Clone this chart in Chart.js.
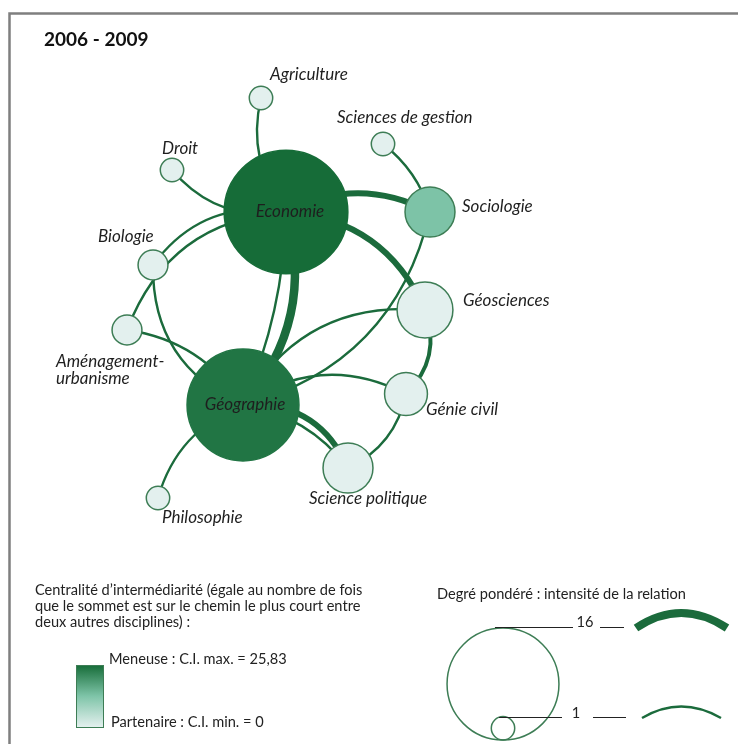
<!DOCTYPE html>
<html>
<head>
<meta charset="utf-8">
<script src="https://cdn.jsdelivr.net/npm/chart.js@4.4.1/dist/chart.umd.min.js"></script>
<style>
  html, body { margin: 0; padding: 0; background: #fff; }
  #wrap { width: 738px; height: 744px; position: relative; }
</style>
</head>
<body>
<div id="wrap"><canvas id="net" width="738" height="744"></canvas></div>
<script>
// Nodes (disciplines) - layout coords, weighted degree, betweenness centrality
const nodeNames  = ['Economie', 'Géographie', 'Sociologie', 'Géosciences', 'Génie civil', 'Science politique',
                    'Agriculture', 'Sciences de gestion', 'Droit', 'Biologie', 'Aménagement-urbanisme', 'Philosophie'];
const nodeX      = [286, 243, 430, 425, 406, 348, 261, 383, 172, 153, 127, 158];
const nodeY      = [212, 405, 212, 310, 394, 468,  98, 144, 170, 265, 330, 498];
const nodeDegree = [18, 16, 5.5, 6.5, 4.3, 5.5, 1, 1, 1, 2.1, 2.1, 1];
const nodeCI     = [25.83, 24.5, 13, 0, 0, 0, 0, 0, 0, 0, 0, 0];

// Edges (relations) - index into nodes, weight, curvature
const edgeFrom   = [6, 8, 0, 0, 9, 10, 0, 0, 0, 0, 7, 2, 3, 4, 3, 4, 1, 1, 1];
const edgeTo     = [0, 0, 9, 10, 1, 1, 1, 1, 2, 3, 2, 1, 1, 1, 4, 5, 5, 5, 11];
const edgeWeight = [1, 1, 1, 1, 1, 1, 17, 1, 10, 10, 1, 1, 1, 1, 5, 1, 10, 1, 1];
const edgeBend   = [0.24, 0.28, 0.31, 0.32, 0.33, -0.23, -0.27, -0.1, -0.26, -0.3, -0.16, -0.3, 0.32, 0.3, -0.32, -0.25, -0.35, -0.2, 0.25];

// Legend scale values
const CI_MAX = 25.83, CI_MIN = 0;
const legendDegrees = [16, 1];

const GREEN = '#1b6b3c';
const FONT = 'Lato, "Open Sans", sans-serif';

const radius = (deg) => 11.7 + (deg - 1) * 2.95;
const edgeWidth = (w) => 2.4 + (w - 1) * 0.38;

const STOPS = [[227, 240, 238], [126, 196, 168], [22, 108, 56]];
function ciColor(v) {
  const t = Math.max(0, Math.min(1, (v - CI_MIN) / (CI_MAX - CI_MIN)));
  const seg = t < 0.5 ? 0 : 1, lt = t < 0.5 ? t / 0.5 : (t - 0.5) / 0.5;
  const a = STOPS[seg], b = STOPS[seg + 1];
  return 'rgb(' + a.map((c, i) => Math.round(c + (b[i] - c) * lt)).join(',') + ')';
}

// label placement (text layout only)
const LABELS = {
  'Economie': { x: 290, y: 212, align: 'center' },
  'Géographie': { x: 245, y: 405, align: 'center' },
  'Sociologie': { x: 462, y: 207 },
  'Géosciences': { x: 463, y: 301 },
  'Génie civil': { x: 426, y: 410 },
  'Science politique': { x: 309, y: 499 },
  'Agriculture': { x: 270, y: 75 },
  'Sciences de gestion': { x: 337, y: 118 },
  'Droit': { x: 162, y: 149 },
  'Biologie': { x: 98, y: 237 },
  'Aménagement-urbanisme': { x: 56, y: 362, lines: ['Aménagement-', 'urbanisme'] },
  'Philosophie': { x: 162, y: 518 }
};

function curve(ctx, x0, y0, x1, y1, bend) {
  const dx = x1 - x0, dy = y1 - y0, len = Math.hypot(dx, dy);
  const cx = (x0 + x1) / 2 + (-dy / len) * bend * len;
  const cy = (y0 + y1) / 2 + (dx / len) * bend * len;
  ctx.beginPath();
  ctx.moveTo(x0, y0);
  ctx.quadraticCurveTo(cx, cy, x1, y1);
  ctx.stroke();
}

const edgesPlugin = {
  id: 'edges',
  beforeDatasetsDraw(chart) {
    const { ctx, scales: { x, y } } = chart;
    ctx.save();
    ctx.strokeStyle = GREEN;
    ctx.lineCap = 'butt';
    edgeFrom.forEach((a, i) => {
      const b = edgeTo[i];
      ctx.lineWidth = edgeWidth(edgeWeight[i]);
      curve(ctx, x.getPixelForValue(nodeX[a]), y.getPixelForValue(nodeY[a]),
                 x.getPixelForValue(nodeX[b]), y.getPixelForValue(nodeY[b]), edgeBend[i]);
    });
    ctx.restore();
  }
};

const labelsPlugin = {
  id: 'labels',
  afterDatasetsDraw(chart) {
    const ctx = chart.ctx;
    ctx.save();
    ctx.font = 'italic 17px ' + FONT;
    ctx.fillStyle = '#1e1e1e';
    ctx.textBaseline = 'middle';
    nodeNames.forEach(n => {
      const l = LABELS[n];
      ctx.textAlign = l.align || 'left';
      (l.lines || [n]).forEach((t, k) => ctx.fillText(t, l.x, l.y + k * 17));
    });
    ctx.restore();
  }
};

const frameLegendPlugin = {
  id: 'frameLegend',
  afterDraw(chart) {
    const ctx = chart.ctx;
    ctx.save();
    // frame
    ctx.strokeStyle = '#7f7f7f';
    ctx.lineWidth = 2.5;
    ctx.beginPath();
    ctx.moveTo(9.5, 744); ctx.lineTo(9.5, 13.5); ctx.lineTo(738, 13.5);
    ctx.stroke();

    // title
    ctx.fillStyle = '#111';
    ctx.textBaseline = 'middle';
    ctx.font = 'bold 19px ' + FONT;
    ctx.fillText('2006 - 2009', 44, 40);

    // centrality legend
    ctx.font = '14.6px ' + FONT;
    ctx.fillStyle = '#222';
    ['Centralité d’intermédiarité (égale au nombre de fois',
     'que le sommet est sur le chemin le plus court entre',
     'deux autres disciplines) :'].forEach((t, k) => ctx.fillText(t, 35, 590 + k * 16));
    const g = ctx.createLinearGradient(0, 665, 0, 727);
    [0, 0.25, 0.5, 0.75, 1].forEach(s => g.addColorStop(s, ciColor(CI_MAX - s * (CI_MAX - CI_MIN))));
    ctx.fillStyle = g;
    ctx.fillRect(76, 665, 27, 62);
    ctx.strokeStyle = '#3d7d55';
    ctx.lineWidth = 1;
    ctx.strokeRect(76.5, 665.5, 27, 62);
    ctx.fillStyle = '#222';
    ctx.fillText('Meneuse : C.I. max. = ' + CI_MAX.toString().replace('.', ','), 109, 659);
    ctx.fillText('Partenaire : C.I. min. = ' + CI_MIN, 111, 722);

    // weighted degree legend
    ctx.fillText('Degré pondéré : intensité de la relation', 437, 594);
    const [dMax, dMin] = legendDegrees;
    const rMax = radius(dMax), rMin = radius(dMin);
    ctx.strokeStyle = '#3d7d55';
    ctx.lineWidth = 1.5;
    ctx.beginPath(); ctx.arc(503, 740 - rMax, rMax, 0, Math.PI * 2); ctx.stroke();
    ctx.beginPath(); ctx.arc(503, 740 - rMin, rMin, 0, Math.PI * 2); ctx.stroke();
    ctx.strokeStyle = '#222';
    ctx.lineWidth = 1;
    [[495, 573, 627], [600, 624, 627], [499, 562, 717], [593, 626, 717]].forEach(([a, b, yy]) => {
      ctx.beginPath(); ctx.moveTo(a, yy + 0.5); ctx.lineTo(b, yy + 0.5); ctx.stroke();
    });
    ctx.textAlign = 'center';
    ctx.fillText(String(dMax), 585, 622);
    ctx.fillText(String(dMin), 576, 713);
    ctx.strokeStyle = GREEN;
    ctx.lineWidth = edgeWidth(dMax);
    ctx.beginPath(); ctx.moveTo(636, 628); ctx.quadraticCurveTo(681, 598, 727, 628); ctx.stroke();
    ctx.lineWidth = edgeWidth(dMin);
    ctx.beginPath(); ctx.moveTo(642, 718); ctx.quadraticCurveTo(681, 695, 721, 718); ctx.stroke();
    ctx.restore();
  }
};

new Chart(document.getElementById('net'), {
  type: 'bubble',
  data: {
    datasets: [{
      data: nodeX.map((x, i) => ({ x, y: nodeY[i], r: radius(nodeDegree[i]) })),
      backgroundColor: nodeCI.map(ciColor),
      borderColor: nodeCI.map(v => v > 20 ? ciColor(v) : '#3d7d55'),
      borderWidth: 1.5
    }]
  },
  options: {
    responsive: false,
    animation: false,
    layout: { padding: 0, autoPadding: false },
    scales: {
      x: { type: 'linear', min: 0, max: 738, display: false },
      y: { type: 'linear', min: 0, max: 744, reverse: true, display: false }
    },
    plugins: { legend: { display: false }, tooltip: { enabled: false } }
  },
  plugins: [edgesPlugin, labelsPlugin, frameLegendPlugin]
});
</script>
</body>
</html>
